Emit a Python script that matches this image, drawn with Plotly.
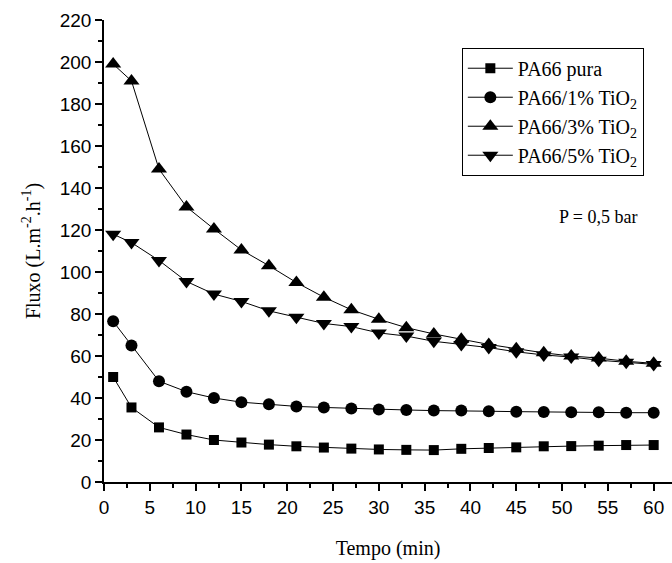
import plotly.graph_objects as go

tempo = [1, 3, 6, 9, 12, 15, 18, 21, 24, 27, 30, 33, 36, 39, 42, 45, 48, 51, 54, 57, 60]
pa66_pura = [50, 35.5, 26, 22.6, 20, 18.8, 17.8, 17, 16.4, 15.9, 15.5, 15.3, 15.2, 15.8, 16.2, 16.5, 17, 17.1, 17.3, 17.6, 17.6]
pa66_1 = [76.5, 65, 48, 43, 40, 38, 37, 36, 35.5, 35, 34.5, 34.3, 34, 34, 33.7, 33.5, 33.3, 33.2, 33.2, 33, 33]
pa66_3 = [199, 191, 149, 131, 120.5, 110.5, 103, 95, 88, 82, 77.5, 73.5, 70.5, 68, 65.5, 63.5, 61.5, 60, 59, 57.5, 56.5]
pa66_5 = [118, 114, 105.5, 95.5, 89.5, 86, 81.5, 78.5, 75.5, 74, 71, 69.5, 67, 65.5, 64, 62, 60.5, 59.5, 58, 57, 56]

series = [
    ("PA66 pura", pa66_pura, "square", 10),
    ("PA66/1% TiO<sub>2</sub>", pa66_1, "circle", 12),
    ("PA66/3% TiO<sub>2</sub>", pa66_3, "triangle-up", 14),
    ("PA66/5% TiO<sub>2</sub>", pa66_5, "triangle-down", 14),
]

fig = go.Figure()
for name, vals, sym, sz in series:
    fig.add_trace(go.Scatter(
        x=tempo, y=vals, name=name, mode="lines+markers",
        line=dict(color="black", width=1),
        marker=dict(symbol=sym, size=sz, color="black"),
    ))

serif = "Liberation Serif, Times New Roman, serif"
sans = "Liberation Sans, Arial, sans-serif"

fig.update_layout(
    width=672, height=563,
    margin=dict(l=104, r=0, t=20, b=81),
    plot_bgcolor="white", paper_bgcolor="white",
    showlegend=True,
    legend=dict(
        x=0.63, y=0.94, xanchor="left", yanchor="top",
        bordercolor="black", borderwidth=1,
        font=dict(family=serif, size=20, color="black"),
        tracegroupgap=0, itemwidth=45,
    ),
    xaxis=dict(
        range=[0, 62], dtick=5, tick0=0,
        showgrid=False, zeroline=False,
        showline=True, linecolor="black", linewidth=1.5,
        ticks="outside", ticklen=7, tickwidth=1.5, tickcolor="black",
        minor=dict(ticks="outside", dtick=2.5, ticklen=4, tickcolor="black", tickwidth=1.5),
        tickfont=dict(family=sans, size=19, color="black"),
        title=dict(text="Tempo (min)", font=dict(family=serif, size=20, color="black"), standoff=24),
    ),
    yaxis=dict(
        range=[0, 220], dtick=20, tick0=0,
        showgrid=False, zeroline=False,
        showline=True, linecolor="black", linewidth=1.5,
        ticks="outside", ticklen=7, tickwidth=1.5, tickcolor="black",
        minor=dict(ticks="outside", dtick=10, ticklen=4, tickcolor="black", tickwidth=1.5),
        tickfont=dict(family=sans, size=19, color="black"),
        title=dict(text="Fluxo (L.m<sup>-2</sup>.h<sup>-1</sup>)", font=dict(family=serif, size=20, color="black"), standoff=14),
    ),
    annotations=[dict(
        x=0.87, y=0.574, xref="paper", yref="paper",
        xanchor="center", yanchor="middle",
        text="P = 0,5 bar", showarrow=False,
        font=dict(family=serif, size=18, color="black"),
    )],
)

fig.write_html("out.html")
